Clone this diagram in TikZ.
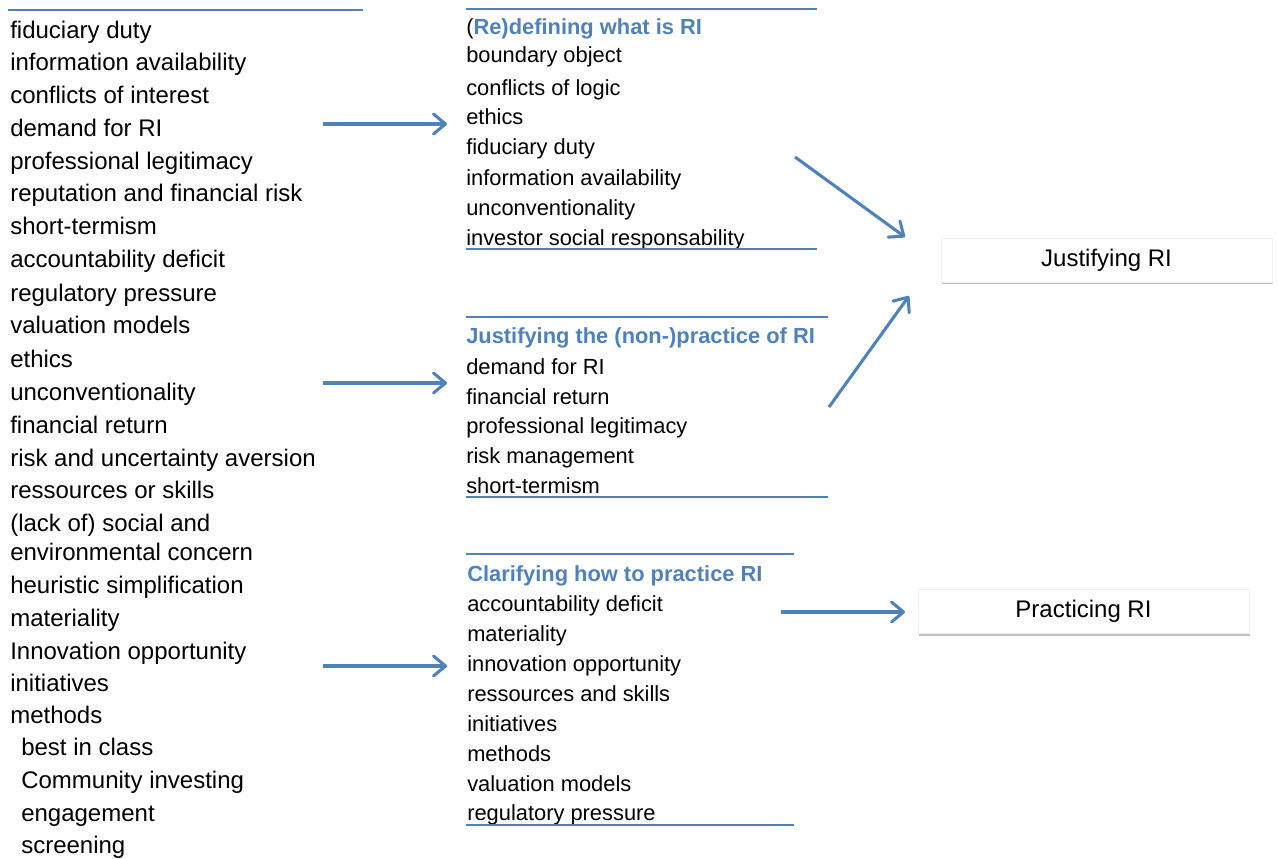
\documentclass[tikz,border=0pt]{standalone}
\usepackage{fontspec}
\setmainfont{Liberation Sans}
\usetikzlibrary{arrows.meta,shadows}
\definecolor{riblue}{HTML}{4F81BD}

\begin{document}
\begin{tikzpicture}[x=0.75pt, y=-0.75pt,
    factor/.style={anchor=base west, inner sep=0pt, font=\fontsize{18pt}{21pt}\selectfont},
    theme/.style={anchor=base west, inner sep=0pt, font=\fontsize{16.4pt}{19pt}\selectfont},
    themehead/.style={theme, text=riblue, font=\fontsize{16.4pt}{19pt}\selectfont\bfseries},
    rule/.style={riblue, line width=1.5pt},
    flow/.style={riblue, line width=2.3pt, -{Straight Barb[length=9pt,width=15pt,round]}},
    outcome/.style={fill=white, draw=black!6, minimum width=248pt, minimum height=33pt,
        inner sep=0pt, font=\fontsize{18pt}{21pt}\selectfont,
        drop shadow={shadow xshift=0.6pt, shadow yshift=-1.6pt, opacity=0.5}}]
    \useasboundingbox (0,0) rectangle (1278,859);

    \draw[rule] (8,10) -- (363,10);
    \foreach \txt/\yy [count=\i] in {fiduciary duty/39, information availability/71,
        conflicts of interest/104, demand for RI/137, professional legitimacy/170,
        reputation and financial risk/202, short-termism/235, accountability deficit/268,
        regulatory pressure/301, valuation models/334, ethics/367, unconventionality/400,
        financial return/433, risk and uncertainty aversion/466, ressources or skills/498,
        {(lack of) social and}/531, environmental concern/560, heuristic simplification/593,
        materiality/626, Innovation opportunity/659, initiatives/691, methods/723}
        \node[factor] (f\i) at (10,\yy) {\txt};
    \foreach \txt/\yy [count=\i] in {best in class/755, Community investing/788,
        engagement/821, screening/853}
        \node[factor] (m\i) at (21,\yy) {\txt};

    \draw[rule] (466,9) -- (817,9);
    \node[themehead] (h1) at (466,35) {\textcolor{black}{\mdseries(}Re)defining what is RI};
    \foreach \txt/\yy [count=\i] in {boundary object/63, conflicts of logic/96, ethics/125,
        fiduciary duty/155, information availability/186, unconventionality/216,
        investor social responsability/246}
        \node[theme] (a\i) at (466,\yy) {\txt};
    \draw[rule] (466,249) -- (817,249);

    \draw[rule] (466,317) -- (828,317);
    \node[themehead] (h2) at (466,344) {Justifying the (non-)practice of RI};
    \foreach \txt/\yy [count=\i] in {demand for RI/374, financial return/404,
        professional legitimacy/433, risk management/463, short-termism/493}
        \node[theme] (b\i) at (466,\yy) {\txt};
    \draw[rule] (466,497) -- (828,497);

    \draw[rule] (466,554) -- (794,554);
    \node[themehead] (h3) at (467,581) {Clarifying how to practice RI};
    \foreach \txt/\yy [count=\i] in {accountability deficit/611, materiality/641,
        innovation opportunity/671, ressources and skills/701, initiatives/731,
        methods/761, valuation models/791, regulatory pressure/820}
        \node[theme] (c\i) at (467,\yy) {\txt};
    \draw[rule] (466,825) -- (794,825);

    \node[outcome] (justify) at (1106.5,260) {Justifying RI};
    \node[outcome] (practice) at (1083.5,611.5) {Practicing RI};

    \coordinate (in1) at (323,124);  \coordinate (to1) at (447,124);
    \coordinate (in2) at (323,383);  \coordinate (to2) at (447,383);
    \coordinate (in3) at (323,666);  \coordinate (to3) at (447,666);
    \coordinate (out1) at (795,157); \coordinate (up1) at (905,237);
    \coordinate (out2) at (829,407); \coordinate (up2) at (909,296);
    \coordinate (out3) at (781,612); \coordinate (up3) at (905,612);

    \draw[flow] (in1) -- (to1);
    \draw[flow] (in2) -- (to2);
    \draw[flow] (in3) -- (to3);
    \draw[flow] (out1) -- (up1);
    \draw[flow] (out2) -- (up2);
    \draw[flow] (out3) -- (up3);
\end{tikzpicture}
\end{document}
